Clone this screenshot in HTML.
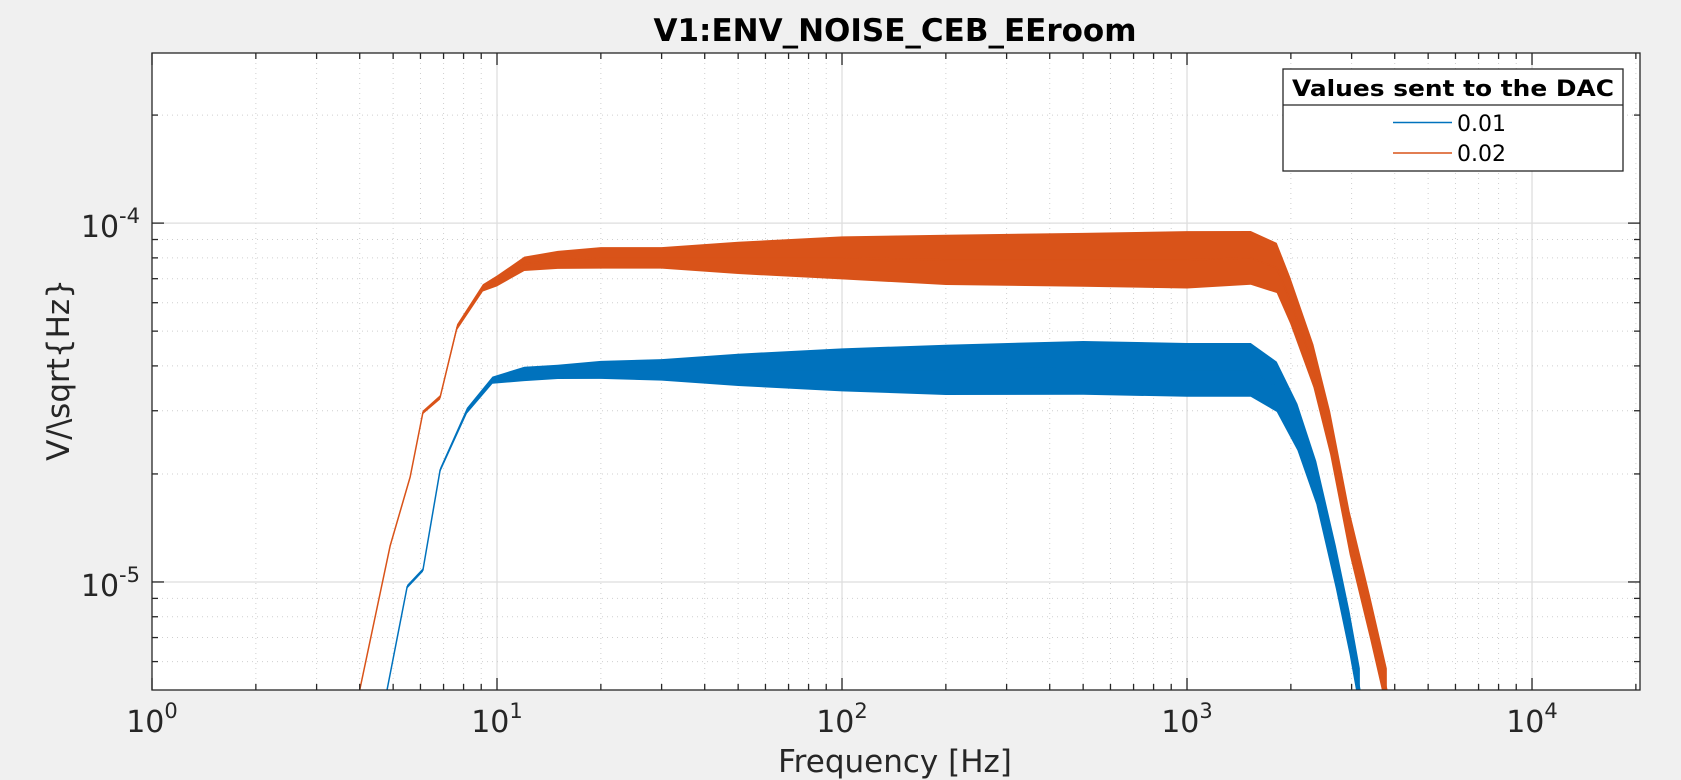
<!DOCTYPE html>
<html><head><meta charset="utf-8"><style>
body{margin:0;background:#f0f0f0;}
svg{display:block;font-family:"DejaVu Sans","Liberation Sans",sans-serif;}
</style></head><body>
<svg id="chart" width="1681" height="780" xmlns="http://www.w3.org/2000/svg">
<rect x="0" y="0" width="1681" height="780" fill="#f0f0f0"/>
<rect x="152" y="53" width="1488" height="637" fill="#fff"/>
<g id="grid"></g>
<g id="series"></g>
<rect x="152" y="53" width="1488" height="637" fill="none" stroke="#262626" stroke-width="1.3"/>
<g id="ticks"></g>
<text x="895" y="41" text-anchor="middle" font-size="31" font-weight="bold" fill="#000">V1:ENV_NOISE_CEB_EEroom</text>
<text x="895" y="772" text-anchor="middle" font-size="31" fill="#262626">Frequency [Hz]</text>
<text transform="translate(69,370) rotate(-90)" text-anchor="middle" font-size="31" fill="#262626">V/\sqrt{Hz}</text>
<g>
<rect x="1283" y="69" width="340" height="102" fill="#fff" stroke="#262626" stroke-width="1.3"/>
<text x="1453" y="96" text-anchor="middle" font-size="22" font-weight="bold" fill="#000" textLength="322" lengthAdjust="spacingAndGlyphs">Values sent to the DAC</text>
<line x1="1283" y1="105" x2="1623" y2="105" stroke="#262626" stroke-width="1.3"/>
<g>
<line x1="1393" y1="122.5" x2="1452" y2="122.5" stroke="#0072bd" stroke-width="1.5"/>
<text x="1457" y="131" font-size="22" fill="#000">0.01</text>
</g>
<g>
<line x1="1393" y1="153" x2="1452" y2="153" stroke="#d95319" stroke-width="1.5"/>
<text x="1457" y="161" font-size="22" fill="#000">0.02</text>
</g>
</g>
</svg>
<script>
const blueFreqs = [4.8, 5.49, 6.1, 6.84, 8.18, 9.7, 12, 15, 20, 30, 50, 100, 200, 500, 1000, 1530, 1820, 2090, 2370, 2700, 2960, 3170];
const blueVals = [5e-6, 9.7e-6, 1.08e-5, 2.05e-5, 3.0e-5, 3.65e-5, 3.8e-5, 3.85e-5, 3.9e-5, 3.9e-5, 3.9e-5, 3.9e-5, 3.9e-5, 3.95e-5, 3.9e-5, 3.9e-5, 3.5e-5, 2.7e-5, 1.89e-5, 1.1e-5, 7.2e-6, 5e-6];
const blueSpread = [0.005, 0.005, 0.005, 0.006, 0.008, 0.01, 0.02, 0.02, 0.025, 0.03, 0.045, 0.06, 0.07, 0.075, 0.075, 0.075, 0.07, 0.065, 0.06, 0.06, 0.06, 0.06];
const redFreqs = [4.0, 4.9, 5.6, 6.1, 6.84, 7.66, 9.1, 10, 12, 15, 20, 30, 50, 100, 200, 500, 1000, 1530, 1820, 1990, 2325, 2600, 2960, 3390, 3795];
const redVals = [5e-6, 1.26e-5, 1.96e-5, 2.97e-5, 3.27e-5, 5.13e-5, 6.6e-5, 6.9e-5, 7.7e-5, 7.9e-5, 8.0e-5, 8.0e-5, 8.0e-5, 8.0e-5, 7.9e-5, 7.9e-5, 7.9e-5, 8.0e-5, 7.5e-5, 6.1e-5, 4.0e-5, 2.6e-5, 1.37e-5, 8e-6, 5e-6];
const redSpread = [0.005, 0.005, 0.005, 0.005, 0.006, 0.008, 0.01, 0.015, 0.02, 0.025, 0.03, 0.03, 0.045, 0.06, 0.07, 0.075, 0.08, 0.075, 0.07, 0.065, 0.06, 0.06, 0.06, 0.06, 0.06];
const xTicks = [1, 10, 100, 1000, 10000];
const xTickExp = ["0", "1", "2", "3", "4"];
const yTicks = [1e-5, 1e-4];
const yTickExp = ["-5", "-4"];

const NS = "http://www.w3.org/2000/svg";
const L = 152, R = 1640, T = 53, B = 690;
const xMin = 0, xMax = 4.313;
const yMin = Math.log10(5e-6), yMax = -3.526;
function X(f){ return L + (Math.log10(f) - xMin) / (xMax - xMin) * (R - L); }
function Y(v){ return B - (Math.log10(v) - yMin) / (yMax - yMin) * (B - T); }
function mk(tag, attrs, parent){ const e = document.createElementNS(NS, tag); for (const k in attrs) e.setAttribute(k, attrs[k]); parent.appendChild(e); return e; }

const grid = document.getElementById('grid');
const ticks = document.getElementById('ticks');
for (let d = 0; d <= 4; d++) {
  for (let m = 1; m <= 9; m++) {
    const x = X(m * Math.pow(10, d));
    if (x > R - 1) continue;
    const major = m === 1;
    if (x > L + 1) {
      const gl = mk('line', {x1:x, x2:x, y1:T, y2:B, stroke: major ? '#dedede' : '#cfcfcf', 'stroke-width': major ? 1.3 : 1, 'stroke-dasharray': major ? 'none' : '1,4'}, grid);
      
      
    }
    const len = major ? 12 : 6;
    const t1 = mk('line', {x1:x, x2:x, y1:B, y2:B-len, stroke:'#262626', 'stroke-width':1.3}, ticks);
    
    
    const t2 = mk('line', {x1:x, x2:x, y1:T, y2:T+len, stroke:'#262626', 'stroke-width':1.3}, ticks);
    
    
  }
}
for (let d = -6; d <= -4; d++) {
  for (let m = 1; m <= 9; m++) {
    const y = Y(m * Math.pow(10, d));
    if (y < T + 1 || y > B - 1) continue;
    const major = m === 1;
    const gl = mk('line', {x1:L, x2:R, y1:y, y2:y, stroke: major ? '#dedede' : '#cfcfcf', 'stroke-width': major ? 1.3 : 1, 'stroke-dasharray': major ? 'none' : '1,4'}, grid);
    
    
    const len = major ? 12 : 6;
    const t1 = mk('line', {x1:L, x2:L+len, y1:y, y2:y, stroke:'#262626', 'stroke-width':1.3}, ticks);
    
    
    const t2 = mk('line', {x1:R, x2:R-len, y1:y, y2:y, stroke:'#262626', 'stroke-width':1.3}, ticks);
    
    
  }
}
xTicks.forEach((f, i) => {
  const t = mk('text', {x: X(f), y: 732, 'text-anchor':'middle', 'font-size':30, fill:'#262626'}, ticks);
  
  
  t.appendChild(document.createTextNode('10'));
  const s = mk('tspan', {dy:-14, 'font-size':21}, t);
  s.textContent = xTickExp[i];
});
yTicks.forEach((v, i) => {
  const t = mk('text', {x: 140, y: Y(v) + 14, 'text-anchor':'end', 'font-size':30, fill:'#262626'}, ticks);
  
  
  t.appendChild(document.createTextNode('10'));
  const s = mk('tspan', {dy:-14, 'font-size':21}, t);
  s.textContent = yTickExp[i];
});

const sg = document.getElementById('series');
const clip = mk('clipPath', {id:'pc'}, sg);
mk('rect', {x:L, y:T, width:R-L, height:B-T}, clip);
function drawSeries(freqs, vals, spread, color, name){
  const up = [], dn = [], mid = [];
  for (let i = 0; i < freqs.length; i++) {
    const x = X(freqs[i]);
    const k = Math.pow(10, spread[i]);
    mid.push(x + ',' + Y(vals[i]));
    up.push(x + ',' + Y(vals[i] * k));
    dn.push(x + ',' + Y(vals[i] / k));
  }
  const band = mk('polygon', {points: up.concat(dn.reverse()).join(' '), fill: color, 'clip-path':'url(#pc)'}, sg);
  
  
  const line = mk('polyline', {points: mid.join(' '), fill:'none', stroke: color, 'stroke-width':1.5, 'clip-path':'url(#pc)'}, sg);
  
  
}
drawSeries(redFreqs, redVals, redSpread, '#d95319', 'series-0.02');
drawSeries(blueFreqs, blueVals, blueSpread, '#0072bd', 'series-0.01');
</script>
</body></html>
